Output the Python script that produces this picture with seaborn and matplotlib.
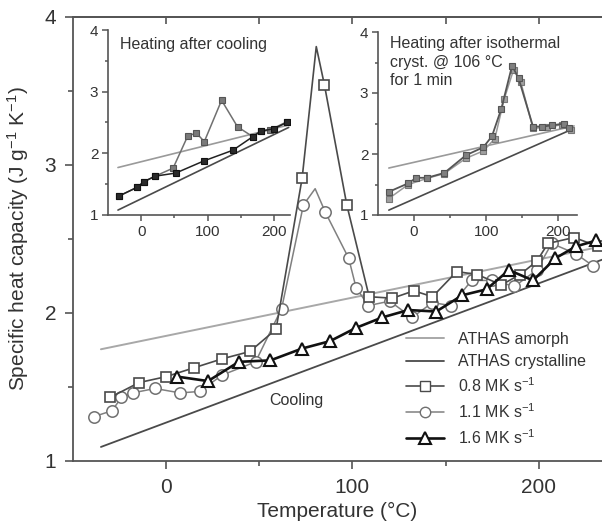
import numpy as np
import pandas as pd
import matplotlib
matplotlib.use("Agg")
import matplotlib.pyplot as plt
import seaborn as sns
from matplotlib.lines import Line2D

sns.set_theme(style="ticks")
plt.rcParams["font.family"] = ["Liberation Sans", "DejaVu Sans"]
plt.rcParams["mathtext.fontset"] = "custom"
plt.rcParams["mathtext.rm"] = "Liberation Sans"
plt.rcParams["mathtext.it"] = "Liberation Sans:italic"
plt.rcParams["mathtext.bf"] = "Liberation Sans:bold"

TXT = "#333333"
SPINE = "#555555"

# ---------------- data ----------------
# ATHAS reference lines (main panel)
base_T = [-35, 234]
amorph_cp = [1.755, 2.45]
cryst_cp = [1.095, 2.36]

# main panel: cooling
sq_T = [-30, -14.5, 0, 15, 30, 45, 59, 73, 80.6, 85, 97, 109, 121.5, 133, 143, 156, 167, 180, 190, 199, 205, 219, 232]
sq_cp = [1.43, 1.53, 1.57, 1.63, 1.69, 1.74, 1.89, 2.91, 3.80, 3.54, 2.73, 2.11, 2.10, 2.15, 2.11, 2.28, 2.26, 2.19, 2.26, 2.35, 2.47, 2.51, 2.45]
sq_peak = [8]

ci_T = [-38.7, -29, -24, -18, -6, 7.5, 18, 30, 48, 62, 73.7, 80, 85.5, 98, 102, 108.6, 120, 132, 143, 153, 164, 175, 187, 199, 207, 220, 229]
ci_cp = [1.30, 1.34, 1.43, 1.46, 1.49, 1.46, 1.47, 1.58, 1.67, 2.03, 2.73, 2.84, 2.68, 2.37, 2.17, 2.05, 2.08, 1.97, 2.07, 2.05, 2.22, 2.22, 2.18, 2.29, 2.47, 2.40, 2.32]
ci_peak = [11]

tr_T = [6, 22.5, 39, 56, 73, 88, 102, 116, 130, 145, 159, 172, 184, 197, 209, 220, 231]
tr_cp = [1.57, 1.54, 1.67, 1.68, 1.76, 1.81, 1.90, 1.97, 2.02, 2.01, 2.12, 2.16, 2.29, 2.22, 2.37, 2.45, 2.49]

legend_labels = ["ATHAS amorph", "ATHAS crystalline",
                 "0.8 MK s$^{-1}$", "1.1 MK s$^{-1}$", "1.6 MK s$^{-1}$"]

# insets: ATHAS lines
ins_base_T = [-35, 222]
ins_amorph_cp = [1.77, 2.46]
ins_cryst_cp = [1.08, 2.42]

# inset 1: heating after cooling
h1a_T = [-33, -6, 4, 21, 48, 70, 83, 95, 121, 145, 168, 180, 194, 219]
h1a_cp = [1.31, 1.45, 1.54, 1.63, 1.76, 2.28, 2.33, 2.19, 2.86, 2.43, 2.27, 2.36, 2.38, 2.51]
h1b_T = [-33, -6, 4, 21, 52, 95, 138, 168, 180, 200, 219]
h1b_cp = [1.31, 1.45, 1.54, 1.63, 1.68, 1.88, 2.05, 2.27, 2.36, 2.40, 2.50]

# inset 2: heating after isothermal crystallization
h2a_T = [-35, -8, 3, 18, 42, 72, 96, 108, 121, 136, 145, 165, 178, 192, 208, 215]
h2a_cp = [1.38, 1.52, 1.61, 1.61, 1.69, 1.98, 2.11, 2.29, 2.74, 3.45, 3.24, 2.45, 2.45, 2.47, 2.50, 2.42]
h2b_T = [-35, -8, 18, 42, 72, 96, 112, 125, 138, 148, 165, 185, 205, 218]
h2b_cp = [1.27, 1.50, 1.60, 1.68, 1.93, 2.05, 2.25, 2.90, 3.38, 3.18, 2.42, 2.44, 2.48, 2.40]

# ---------------- figure ----------------
fig = plt.figure(figsize=(6.02, 5.27), dpi=100)
ax = fig.add_axes([73 / 602, 1 - 461 / 527, 529 / 602, 444 / 527])


def line(a, x, y, **kw):
    df = pd.DataFrame({"x": x, "y": y})
    sns.lineplot(data=df, x="x", y="y", ax=a, sort=False, estimator=None, **kw)


line(ax, base_T, amorph_cp, color="#a8a8a8", lw=1.4)
line(ax, base_T, cryst_cp, color="#4a4a4a", lw=1.3)

sq_marks = [i for i in range(len(sq_T)) if i not in sq_peak]
ci_marks = [i for i in range(len(ci_T)) if i not in ci_peak]
line(ax, ci_T, ci_cp, color="#808080", lw=1.1, marker="o", markevery=ci_marks,
     ms=8.2, mfc="white", mec="#707070", mew=1.1)
line(ax, sq_T, sq_cp, color="#4a4a4a", lw=1.2, marker="s", markevery=sq_marks,
     ms=7.4, mfc="white", mec="#4a4a4a", mew=1.2)
line(ax, tr_T, tr_cp, color="#111111", lw=1.9, marker="^", ms=8.5,
     mfc="white", mec="#111111", mew=1.5)

ax.set_xlim(-50, 234)
ax.set_ylim(1, 4)
ax.set_xticks([0, 100, 200])
ax.set_xticks([50, 150], minor=True)
ax.set_yticks([1, 2, 3, 4])
ax.set_yticks([1.5, 2.5, 3.5], minor=True)
ax.tick_params(axis="both", which="major", direction="out", length=6, width=1.2,
               color=SPINE, labelsize=15, labelcolor=TXT, pad=6)
ax.tick_params(axis="both", which="minor", direction="out", length=3.5, width=1.2, color=SPINE)
for s in ["left", "bottom", "top"]:
    ax.spines[s].set_color(SPINE)
    ax.spines[s].set_linewidth(1.3)
ax.spines["right"].set_visible(False)
sec = ax.secondary_xaxis("top")
sec.set_xticks([0, 100, 200])
sec.set_xticks([50, 150], minor=True)
sec.tick_params(which="both", direction="in", length=5, width=1.2, color=SPINE, labeltop=False)
sec.spines["top"].set_color(SPINE)
sec.spines["top"].set_linewidth(1.3)

ax.set_xlabel("Temperature (°C)", fontsize=15, color=TXT, labelpad=4)
ax.set_ylabel("Specific heat capacity (J g$^{-1}$ K$^{-1}$)", fontsize=15, color=TXT, labelpad=10)
ax.text(70, 1.41, "Cooling", fontsize=11.5, color=TXT, ha="center", va="center")

handles = [
    Line2D([], [], color="#a8a8a8", lw=1.4),
    Line2D([], [], color="#4a4a4a", lw=1.3),
    Line2D([], [], color="#4a4a4a", lw=1.2, marker="s", ms=7, mfc="white", mec="#4a4a4a"),
    Line2D([], [], color="#808080", lw=1.1, marker="o", ms=7.5, mfc="white", mec="#707070"),
    Line2D([], [], color="#111111", lw=1.9, marker="^", ms=8, mfc="white", mec="#111111", mew=1.5),
]
leg = fig.legend(handles, legend_labels, loc="upper left",
                 bbox_to_anchor=(406 / 602, 1 - 332 / 527), frameon=False,
                 fontsize=11.5, handlelength=2.4, handletextpad=0.85,
                 labelspacing=0.45, borderpad=0, borderaxespad=0)
for t in leg.get_texts():
    t.set_color(TXT)


def style_inset(a, xmax):
    a.set_facecolor("none")
    a.set_xlim(-50, xmax)
    a.set_ylim(1, 4)
    a.set_xticks([0, 100, 200])
    a.set_xticks([50, 150], minor=True)
    a.set_yticks([1, 2, 3, 4])
    a.set_yticks([1.5, 2.5, 3.5], minor=True)
    a.tick_params(axis="both", which="major", direction="out", length=4, width=1.1,
                  color=SPINE, labelsize=11, labelcolor=TXT, pad=3)
    a.tick_params(axis="both", which="minor", direction="out", length=2.5, width=1.1, color=SPINE)
    for s in ["left", "bottom"]:
        a.spines[s].set_color(SPINE)
        a.spines[s].set_linewidth(1.2)
    for s in ["right", "top"]:
        a.spines[s].set_visible(False)
    a.set_xlabel("")
    a.set_ylabel("")


# inset 1
ax1 = fig.add_axes([108 / 602, 1 - 215 / 527, 182 / 602, 185 / 527])
line(ax1, ins_base_T, ins_amorph_cp, color="#9a9a9a", lw=1.2)
line(ax1, ins_base_T, ins_cryst_cp, color="#4a4a4a", lw=1.2)
line(ax1, h1a_T, h1a_cp, color="#707070", lw=1.1, marker="s", ms=5,
     mfc="#7a7a7a", mec="#555555", mew=0.8)
line(ax1, h1b_T, h1b_cp, color="#222222", lw=1.1, marker="s", ms=5,
     mfc="#2a2a2a", mec="#111111", mew=0.8)
style_inset(ax1, 224)
ax1.text(-32, 3.88, "Heating after cooling", fontsize=11.5, color=TXT, ha="left", va="top")

# inset 2
ax2 = fig.add_axes([378 / 602, 1 - 215 / 527, 199 / 602, 183 / 527])
line(ax2, ins_base_T, ins_amorph_cp, color="#9a9a9a", lw=1.2)
line(ax2, ins_base_T, ins_cryst_cp, color="#4a4a4a", lw=1.2)
line(ax2, h2b_T, h2b_cp, color="#9a9a9a", lw=1.1, marker="s", ms=5,
     mfc="#a0a0a0", mec="#777777", mew=0.8)
line(ax2, h2a_T, h2a_cp, color="#555555", lw=1.3, marker="s", ms=5,
     mfc="#808080", mec="#555555", mew=0.8)
style_inset(ax2, 226)
ax2.text(-33, 3.93, "Heating after isothermal\ncryst. @ 106 °C\nfor 1 min", fontsize=11.5,
         color=TXT, ha="left", va="top", linespacing=1.3)

fig.savefig("out.png", dpi=100)
